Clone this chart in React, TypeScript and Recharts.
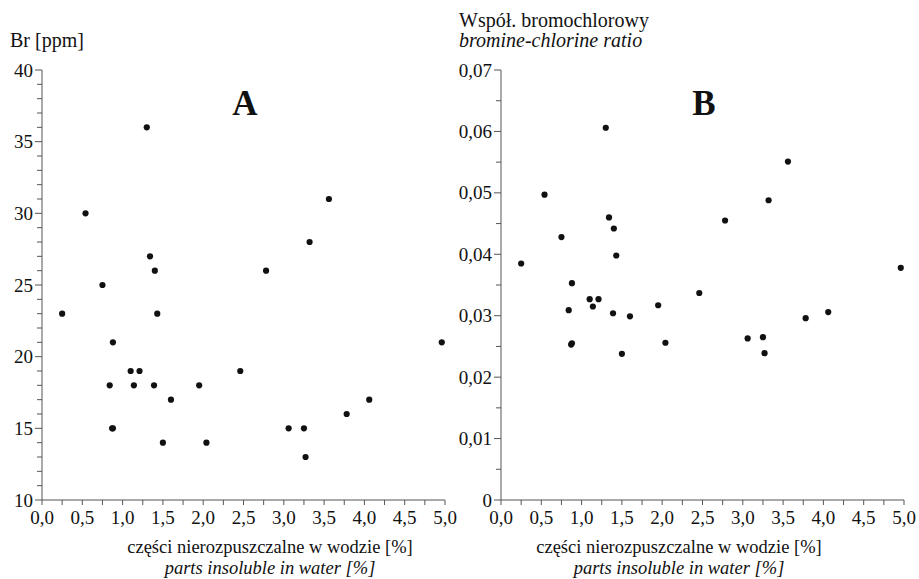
import { ScatterChart, Scatter, XAxis, YAxis } from 'recharts';

// shared x: parts insoluble in water [%]
const insoluble = [
  0.25, 0.54, 0.75, 0.84, 0.87, 0.88, 0.88, 1.1, 1.14, 1.21, 1.3, 1.34, 1.39, 1.4, 1.43,
  1.5, 1.6, 1.95, 2.04, 2.46, 2.78, 3.06, 3.25, 3.27, 3.32, 3.56, 3.78, 4.06, 4.96,
];
const brPpm = [
  23, 30, 25, 18, 15, 15, 21, 19, 18, 19, 36, 27, 18, 26, 23,
  14, 17, 18, 14, 19, 26, 15, 15, 13, 28, 31, 16, 17, 21,
];
const brClRatio = [
  0.0385, 0.0497, 0.0428, 0.0309, 0.0253, 0.0255, 0.0353, 0.0327, 0.0315, 0.0327, 0.0606,
  0.046, 0.0304, 0.0442, 0.0398, 0.0238, 0.0299, 0.0317, 0.0256, 0.0337, 0.0455, 0.0263,
  0.0265, 0.0239, 0.0488, 0.0551, 0.0296, 0.0306, 0.0378,
];

const xMajor = [0, 0.5, 1, 1.5, 2, 2.5, 3, 3.5, 4, 4.5, 5];
const brMajor = [10, 15, 20, 25, 30, 35, 40];
const ratioMajor = [0, 0.01, 0.02, 0.03, 0.04, 0.05, 0.06, 0.07];

const FONT = "'Liberation Serif', 'DejaVu Serif', serif";
const AXIS = '#555';
const txt = { fontFamily: FONT, fontSize: 20, fill: '#111' };
const tickTxt = { ...txt, fontSize: 19 };
const xLabTxt = { ...txt, fontSize: 18.5 };

// minor ticks sit between the labelled ones
const withMinors = (major: number[], parts: number) => {
  const out: number[] = [];
  for (let i = 0; i < major.length - 1; i++) {
    const step = (major[i + 1] - major[i]) / parts;
    for (let k = 0; k < parts; k++) out.push(+(major[i] + step * k).toFixed(6));
  }
  out.push(major[major.length - 1]);
  return out;
};

const isMajor = (v: number, major: number[]) => major.some((m) => Math.abs(m - v) < 1e-9);

const commaFmt = (v: number, d: number) => (v === 0 && d === 2 ? '0' : v.toFixed(d).replace('.', ','));

const xData = insoluble.map((x, i) => ({ x, br: brPpm[i], ratio: brClRatio[i] }));

function makeYTick(major: number[], fmt: (v: number) => string) {
  return (props: any) => {
    const { x, y, payload } = props;
    const maj = isMajor(payload.value, major);
    return (
      <g>
        <line x1={x - (maj ? 7 : 5)} x2={x} y1={y} y2={y} stroke={AXIS} strokeWidth={1} />
        {maj && (
          <text x={x - 9} y={y} dy={6.5} textAnchor="end" style={tickTxt}>
            {fmt(payload.value)}
          </text>
        )}
      </g>
    );
  };
}

function XTick(props: any) {
  const { x, y, payload } = props;
  const maj = isMajor(payload.value, xMajor);
  return (
    <g>
      <line x1={x} x2={x} y1={y} y2={y + 5} stroke={AXIS} strokeWidth={1} />
      {maj && (
        <text x={x} y={y + 24} textAnchor="middle" style={tickTxt}>
          {commaFmt(payload.value, 1)}
        </text>
      )}
    </g>
  );
}

const dot = (props: any) => <circle cx={props.cx} cy={props.cy} r={3.1} fill="#111" />;

function Panel({
  dataKey,
  domain,
  major,
  parts,
  fmt,
}: {
  dataKey: string;
  domain: [number, number];
  major: number[];
  parts: number;
  fmt: (v: number) => string;
}) {
  return (
    <ScatterChart width={460} height={579} margin={{ top: 70, right: 15, bottom: 49, left: 0 }}>
      <XAxis
        type="number"
        dataKey="x"
        domain={[0, 5]}
        ticks={withMinors(xMajor, 2)}
        interval={0}
        height={30}
        tickSize={0}
        tickMargin={0}
        tick={XTick}
        stroke={AXIS}
      />
      <YAxis
        type="number"
        dataKey={dataKey}
        domain={domain}
        ticks={withMinors(major, parts)}
        interval={0}
        width={42}
        tickSize={0}
        tickMargin={0}
        tick={makeYTick(major, fmt)}
        stroke={AXIS}
      />
      <Scatter data={xData} dataKey={dataKey} shape={dot} isAnimationActive={false} />
    </ScatterChart>
  );
}

export default function App() {
  return (
    <div style={{ position: 'absolute', left: 0, top: 0, width: 919, height: 579, background: '#fff' }}>
      <div style={{ position: 'absolute', left: 0, top: 0 }}>
        <Panel dataKey="br" domain={[10, 40]} major={brMajor} parts={5} fmt={(v) => String(v)} />
      </div>
      <div style={{ position: 'absolute', left: 459, top: 0 }}>
        <Panel dataKey="ratio" domain={[0, 0.07]} major={ratioMajor} parts={2} fmt={(v) => commaFmt(v, 2)} />
      </div>
      <svg width={919} height={579} style={{ position: 'absolute', left: 0, top: 0, pointerEvents: 'none' }}>
        <text x={10} y={47} style={txt}>Br [ppm]</text>
        <text x={459} y={27} style={txt}>Współ. bromochlorowy</text>
        <text x={459} y={47} style={{ ...txt, fontStyle: 'italic' }}>bromine-chlorine ratio</text>
        <text x={245} y={115} textAnchor="middle" style={{ ...txt, fontSize: 35, fontWeight: 'bold' }}>A</text>
        <text x={704} y={115} textAnchor="middle" style={{ ...txt, fontSize: 35, fontWeight: 'bold' }}>B</text>
        <text x={270} y={553} textAnchor="middle" style={xLabTxt}>części nierozpuszczalne w wodzie [%]</text>
        <text x={270} y={574} textAnchor="middle" style={{ ...xLabTxt, fontStyle: 'italic' }}>parts insoluble in water [%]</text>
        <text x={679} y={553} textAnchor="middle" style={xLabTxt}>części nierozpuszczalne w wodzie [%]</text>
        <text x={679} y={574} textAnchor="middle" style={{ ...xLabTxt, fontStyle: 'italic' }}>parts insoluble in water [%]</text>
      </svg>
    </div>
  );
}
